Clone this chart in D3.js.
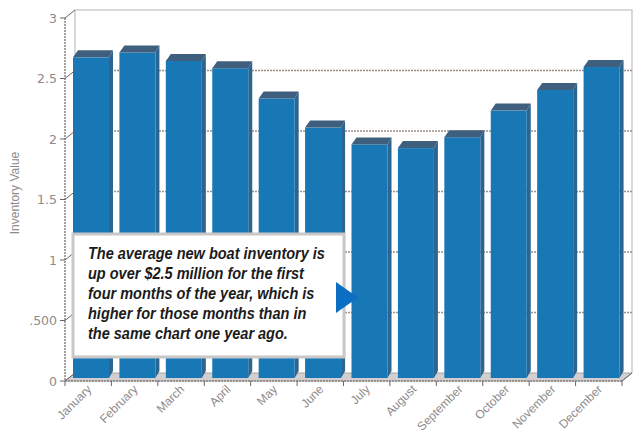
<!DOCTYPE html>
<html>
<head>
<meta charset="utf-8">
<script src="https://cdn.jsdelivr.net/npm/d3@7/dist/d3.min.js"></script>
<style>
  html, body { margin: 0; padding: 0; background: #ffffff; }
  svg { display: block; }
</style>
</head>
<body>
<svg id="chart" width="641" height="443"></svg>
<script>
// Monthly average new boat inventory (millions of dollars)
const months = ["January", "February", "March", "April", "May", "June",
                "July", "August", "September", "October", "November", "December"];
const inventory = [2.65, 2.69, 2.62, 2.56, 2.31, 2.07, 1.93, 1.90, 1.99, 2.21, 2.38, 2.57];
const tickValues = [0, 0.5, 1, 1.5, 2, 2.5, 3];
const tickLabels = ["0", ".500", "1", "1.5", "2", "2.5", "3"];
const yTitle = "Inventory Value";
const noteLines = [
  "The average new boat inventory is",
  "up over $2.5 million for the first",
  "four months of the year, which is",
  "higher for those months than in",
  "the same chart one year ago."
];

const svg = d3.select("#chart");

// front plane of the 3-D box and the depth offset to the back wall
const x = d3.scaleBand().domain(months).range([65, 622]).padding(0);
const y = d3.scaleLinear().domain([0, 3]).range([381, 18]);
const DX = 10, DY = -8;

const gridCol = "#9c9088", wallCol = "#d2cccc", axisCol = "#6a6464", labelCol = "#8e8a8a";

// back wall: top edge, left and right edges
svg.append("path")
  .attr("d", `M${65 + DX},${y(0) + DY} V${y(3) + DY} H${622 + DX} V${y(0) + DY}`)
  .attr("fill", "none").attr("stroke", wallCol).attr("stroke-width", 1.5);

// floor
svg.append("path")
  .attr("d", `M65,${y(0)} L622,${y(0)} L${622 + DX},${y(0) + DY} L${65 + DX},${y(0) + DY} Z`)
  .attr("fill", "#d3cfcf").attr("stroke", "#aaa4a4").attr("stroke-width", 1);

// dashed gridlines on the back wall
svg.append("g").selectAll("line")
  .data(tickValues.filter(v => v > 0 && v < 3))
  .join("line")
  .attr("x1", 65 + DX).attr("x2", 622 + DX)
  .attr("y1", d => y(d) + DY).attr("y2", d => y(d) + DY)
  .attr("stroke", gridCol).attr("stroke-width", 1.3).attr("stroke-dasharray", "2,1");

// 3-D columns
const bx = 8, bw = 36, side = 4, topDX = 5, topDY = -7, baseY = y(0) - 3;
const bars = svg.append("g").selectAll("g")
  .data(months.map((m, i) => ({ m, v: inventory[i] })))
  .join("g");

bars.append("path") // right side face
  .attr("d", d => {
    const x0 = x(d.m) + bx + bw, t = y(d.v) - 3;
    return `M${x0},${t} L${x0 + side},${t + topDY} L${x0 + side},${baseY + topDY} L${x0},${baseY} Z`;
  })
  .attr("fill", "#2c6590");

bars.append("rect") // front face
  .attr("x", d => x(d.m) + bx)
  .attr("y", d => y(d.v) - 3)
  .attr("width", bw)
  .attr("height", d => baseY - (y(d.v) - 3))
  .attr("fill", "#1877b5");

bars.append("path") // top face
  .attr("d", d => {
    const x0 = x(d.m) + bx, t = y(d.v) - 3;
    return `M${x0},${t} L${x0 + topDX},${t + topDY} L${x0 + bw + side},${t + topDY} L${x0 + bw},${t} Z`;
  })
  .attr("fill", "#3e5f7d");

// front value axis with its ticks reaching back to the wall
const yAxis = svg.append("g");
yAxis.append("line")
  .attr("x1", 65).attr("x2", 65).attr("y1", y(3)).attr("y2", y(0))
  .attr("stroke", axisCol).attr("stroke-width", 1.2).attr("stroke-dasharray", "2,1");
yAxis.selectAll(".tk").data(tickValues).join("path")
  .attr("class", "tk")
  .attr("d", d => `M60,${y(d)} H65 L${65 + DX},${y(d) + DY}`)
  .attr("fill", "none").attr("stroke", axisCol).attr("stroke-width", 1);
yAxis.selectAll("text").data(tickValues).join("text")
  .attr("x", 57).attr("y", d => y(d)).attr("dy", "0.36em")
  .attr("text-anchor", "end")
  .attr("font-family", "'DejaVu Sans', sans-serif").attr("font-size", 12.5)
  .attr("fill", labelCol)
  .text((d, i) => tickLabels[i]);

svg.append("text")
  .attr("transform", "translate(19,193) rotate(-90)")
  .attr("text-anchor", "middle")
  .attr("font-family", "'Liberation Sans', sans-serif").attr("font-size", 12)
  .attr("fill", labelCol)
  .text(yTitle);

// category axis
const xAxis = svg.append("g");
xAxis.append("line")
  .attr("x1", 65).attr("x2", 622).attr("y1", y(0)).attr("y2", y(0))
  .attr("stroke", axisCol).attr("stroke-width", 1.2).attr("stroke-dasharray", "2,1");
xAxis.append("line")
  .attr("x1", 622).attr("y1", y(0)).attr("x2", 622 + DX).attr("y2", y(0) + DY)
  .attr("stroke", axisCol).attr("stroke-width", 1);
xAxis.selectAll(".tk").data(months.concat(["end"])).join("line")
  .attr("class", "tk")
  .attr("x1", (d, i) => 65 + i * x.bandwidth()).attr("x2", (d, i) => 65 + i * x.bandwidth())
  .attr("y1", y(0)).attr("y2", y(0) + 5)
  .attr("stroke", axisCol).attr("stroke-width", 1);
xAxis.selectAll("text").data(months).join("text")
  .attr("transform", d => `translate(${x(d) + x.bandwidth() / 2 + 4},${y(0) + 9}) rotate(-45)`)
  .attr("text-anchor", "end")
  .attr("font-family", "'Liberation Sans', sans-serif").attr("font-size", 12)
  .attr("fill", labelCol)
  .text(d => d);

// annotation box
svg.append("rect")
  .attr("x", 73).attr("y", 234).attr("width", 271).attr("height", 123)
  .attr("fill", "#ffffff").attr("stroke", "#c9c7c7").attr("stroke-width", 3);

const note = svg.append("g").attr("transform", "translate(88,0)");
const noteText = note.selectAll("text").data(noteLines).join("text")
  .attr("x", 0).attr("y", (d, i) => 259 + i * 20)
  .attr("font-family", "'Liberation Sans Narrow', 'Liberation Sans', sans-serif")
  .attr("font-weight", "bold").attr("font-style", "italic")
  .attr("font-size", 16)
  .attr("fill", "#1b1b1b")
  .text(d => d);
// fit the first line to the box's text width and scale the block accordingly
const w0 = noteText.node().getComputedTextLength();
const k = 237 / w0;
note.attr("transform", `translate(88,0) scale(${k},1)`);

// pointer triangle
svg.append("path")
  .attr("d", "M336,282 L336,313 L358,297.5 Z")
  .attr("fill", "#0b6ec2");
</script>
</body>
</html>
